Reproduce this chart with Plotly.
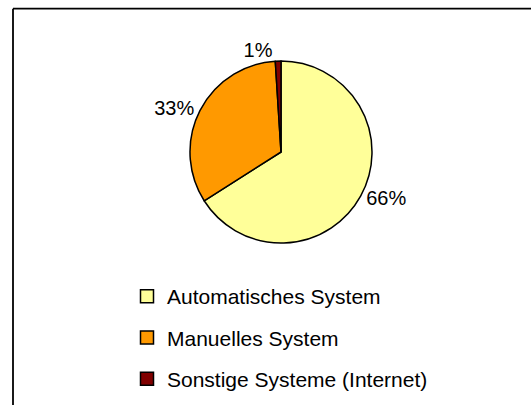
import plotly.graph_objects as go

categories = ["Automatisches System", "Manuelles System", "Sonstige Systeme (Internet)"]
values = [66, 33, 1]
colors = ["#FFFF99", "#FF9900", "#800000"]

W, H = 531, 405
FONT = "Liberation Sans, Arial, sans-serif"

fig = go.Figure()

# pie geometry (pixels)
cx, cy, r = 281, 152, 91
fig.add_trace(go.Pie(
    labels=categories,
    values=values,
    sort=False,
    direction="clockwise",
    rotation=0,
    marker=dict(colors=colors, line=dict(color="#000000", width=1.5)),
    textposition="outside",
    texttemplate="%{percent:.0%}",
    textfont=dict(family=FONT, size=20, color="#000000"),
    showlegend=False,
    domain=dict(x=[(cx - r) / W, (cx + r) / W], y=[1 - (cy + r) / H, 1 - (cy - r) / H]),
    hoverinfo="label+percent",
))

# legend entries
for i, (name, col) in enumerate(zip(categories, colors)):
    fig.add_trace(go.Scatter(
        x=[None], y=[None], mode="markers", name=name,
        marker=dict(symbol="square", size=13, color=col, line=dict(color="#000000", width=1.5)),
        legendgroup=f"g{i}", showlegend=True,
    ))

fig.update_layout(
    width=W, height=H,
    margin=dict(l=0, r=0, t=0, b=0),
    paper_bgcolor="white", plot_bgcolor="white",
    xaxis=dict(visible=False), yaxis=dict(visible=False),
    legend=dict(
        x=127 / W, xanchor="left", y=1 - 276 / H, yanchor="top",
        font=dict(family=FONT, size=21, color="#000000"),
        tracegroupgap=11, bgcolor="rgba(0,0,0,0)",
    ),
    shapes=[
        dict(type="line", xref="paper", yref="paper",
             x0=13 / W, x1=1, y0=1 - 8.7 / H, y1=1 - 8.7 / H,
             line=dict(color="#000000", width=1.8)),
        dict(type="line", xref="paper", yref="paper",
             x0=13 / W, x1=13 / W, y0=0, y1=1 - 8.7 / H,
             line=dict(color="#000000", width=1.8)),
    ],
)

fig.write_html(
    "out.html",
    config={"displayModeBar": False},
    post_script="document.body.style.margin='0';document.body.style.overflow='hidden';",
)
